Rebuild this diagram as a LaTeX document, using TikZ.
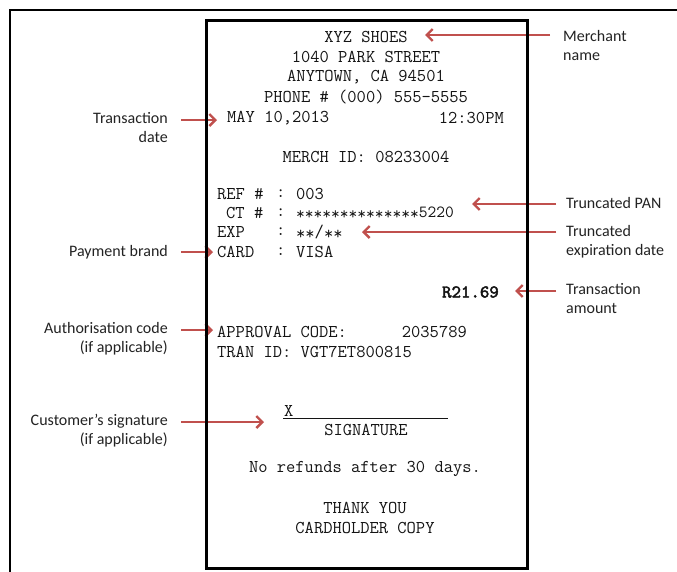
\documentclass[tikz,border=0pt]{standalone}
\usepackage{fontspec}
\setmainfont{Carlito}
\newfontfamily\rcptbold[FakeBold=2.5]{lmmono10-regular.otf}
\usetikzlibrary{arrows.meta}
\definecolor{arrowred}{RGB}{192,80,77}
\definecolor{lbltext}{RGB}{35,35,35}
\definecolor{rcptext}{RGB}{20,20,20}
\begin{document}
\begin{tikzpicture}[x=1pt,y=-1pt,
  rc/.style={font=\ttfamily\fontsize{18}{19}\selectfont, text=rcptext, inner sep=0pt},
  lbl/.style={font=\fontsize{16}{19}\selectfont, text=lbltext, inner sep=0pt},
  arr/.style={draw=arrowred, line width=2.4pt, -{Straight Barb[length=6pt,width=12pt]}}]
\path[use as bounding box, fill=white] (0,0) rectangle (677,571);
% outer frame
\draw[line width=2pt] (10,575) -- (10,10) -- (681,10);

% labels
\node[lbl, anchor=west, align=left] (lmerch) at (563,45) {Merchant\\name};
\node[lbl, anchor=west] (lpan) at (566,203) {Truncated PAN};
\node[lbl, anchor=west, align=left] (lexp) at (566,241.5) {Truncated\\expiration date};
\node[lbl, anchor=west, align=left] (lamt) at (566,299) {Transaction\\amount};
\node[lbl, anchor=east, align=right] (ldate) at (168,127.5) {Transaction\\date};
\node[lbl, anchor=east] (lbrand) at (168,252) {Payment brand};
\node[lbl, anchor=east, align=right] (lauth) at (168,339) {Authorisation code\\(if applicable)};
\node[lbl, anchor=east, align=right] (lsig) at (168,431) {Customer’s signature\\(if applicable)};

% arrow end points
\coordinate (amerchS) at (550,35);  \coordinate (amerchE) at (425,35);
\coordinate (adateS) at (181,120);  \coordinate (adateE) at (217,120);
\coordinate (apanS) at (556,204);   \coordinate (apanE) at (472,204);
\coordinate (aexpS) at (556,232);   \coordinate (aexpE) at (362,232);
\coordinate (abrandS) at (181,252); \coordinate (abrandE) at (213,252);
\coordinate (aamtS) at (556,291);   \coordinate (aamtE) at (515,291);
\coordinate (aauthS) at (181,330);  \coordinate (aauthE) at (213,330);
\coordinate (asigS) at (181,422);   \coordinate (asigE) at (264,422);

\draw[arr] (amerchS) -- (amerchE);
\draw[arr] (adateS) -- (adateE);
\draw[arr] (apanS) -- (apanE);
\draw[arr] (aexpS) -- (aexpE);
\draw[arr] (abrandS) -- (abrandE);
\draw[arr] (aamtS) -- (aamtE);
\draw[arr] (aauthS) -- (aauthE);
\draw[arr] (asigS) -- (asigE);

% receipt box
\draw[line width=3pt] (206,20) rectangle (527,568);

% receipt text
\node[rc] (r1) at (366,37) {XYZ SHOES};
\node[rc] (r2) at (366,57) {1040 PARK STREET};
\node[rc] (r3) at (366,77) {ANYTOWN, CA 94501};
\node[rc] (r4) at (366,97) {PHONE \# (000) 555-5555};
\node[rc, anchor=west] (r5a) at (227,118) {MAY 10,2013};
\node[rc, anchor=east] (r5b) at (504,118) {12:30PM};
\node[rc] (r6) at (366,157) {MERCH ID: 08233004};

\node[rc, anchor=west] (refk) at (217,194) {REF \#};
\node[rc, anchor=west] (refc) at (276,194) {:};
\node[rc, anchor=west] (refv) at (296,194) {003};
\node[rc, anchor=west] (ctk) at (226,213) {CT \#};
\node[rc, anchor=west] (ctc) at (276,213) {:};
\node[rc, anchor=west, font=\ttfamily\fontsize{17}{19}\selectfont] (ctv) at (296,213) {\raisebox{-2.5pt}{**************}5220};
\node[rc, anchor=west] (expk) at (217,232) {EXP};
\node[rc, anchor=west] (expc) at (276,232) {:};
\node[rc, anchor=west] (expv) at (296,232) {\raisebox{-2.5pt}{**}/\raisebox{-2.5pt}{**}};
\node[rc, anchor=west] (cardk) at (217,252) {CARD};
\node[rc, anchor=west] (cardc) at (276,252) {:};
\node[rc, anchor=west] (cardv) at (296,252) {VISA};

\node[rc, anchor=east, font=\rcptbold\fontsize{18}{19}\selectfont] (amt) at (499,292) {R21.69};

\node[rc, anchor=west] (appk) at (217,332) {APPROVAL CODE:};
\node[rc, anchor=east] (appv) at (467,332) {2035789};
\node[rc, anchor=west] (tran) at (217,352) {TRAN ID: VGT7ET800815};

\node[rc, anchor=west] (sigx) at (284,411) {X};
\coordinate (sigl1) at (283,418);
\coordinate (sigl2) at (448,418);
\draw[line width=0.9pt, rcptext] (sigl1) -- (sigl2);
\node[rc] (sig) at (366,430) {SIGNATURE};
\node[rc] (refund) at (365,469) {No refunds after 30 days.};
\node[rc] (thank) at (365,508) {THANK YOU};
\node[rc] (copy) at (365,528) {CARDHOLDER COPY};
\end{tikzpicture}
\end{document}
